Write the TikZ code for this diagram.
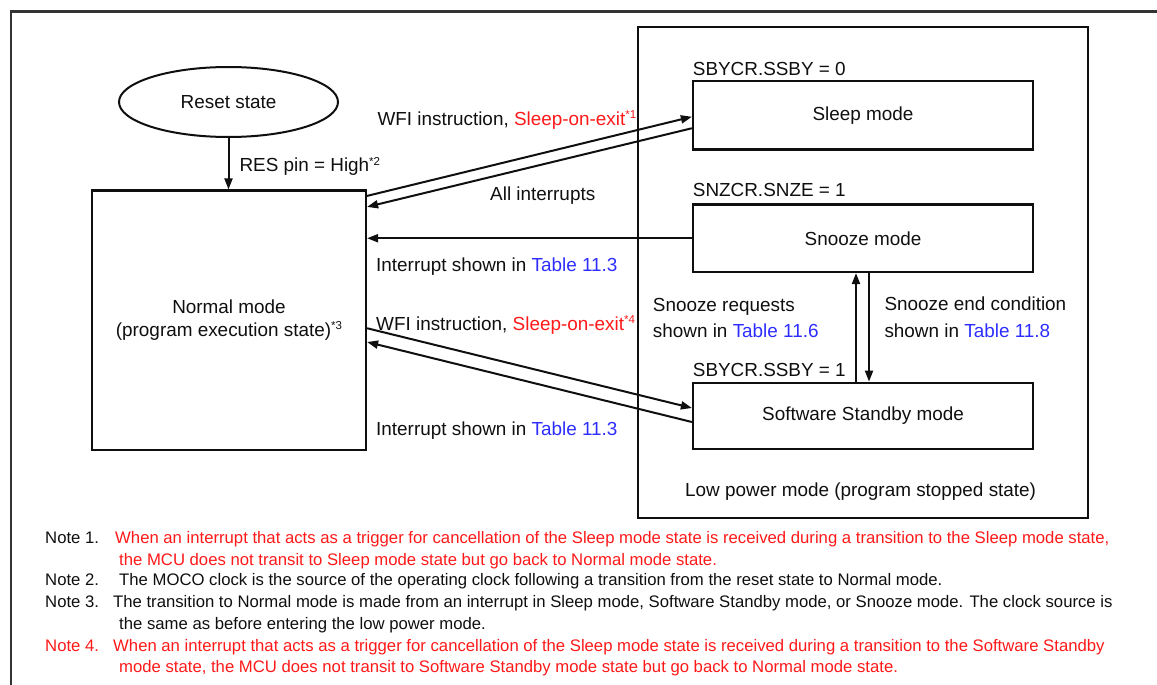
\documentclass[tikz,border=0pt]{standalone}
\usepackage{fontspec}
\setmainfont{Liberation Sans}
\usetikzlibrary{arrows.meta,shapes.geometric}
\definecolor{ired}{RGB}{255,25,25}
\definecolor{iblue}{RGB}{45,45,255}
\definecolor{ink}{RGB}{15,15,15}
% footnote marker on a label
\newcommand{\fmark}[1]{\raisebox{6.5pt}{\fontsize{11.5}{11.5}\selectfont #1}}
\newcommand{\tref}[1]{\textcolor{iblue}{#1}}
\begin{document}
\begin{tikzpicture}[x=1pt,y=-1pt,
  every node/.style={text=ink},
  box/.style={draw=ink, line width=2.2pt, rectangle, inner sep=0pt,
    font=\fontsize{18.9}{22.5}\selectfont, align=center},
  oval/.style={draw=ink, line width=2pt, ellipse, inner sep=0pt,
    font=\fontsize{18.9}{22.5}\selectfont},
  lbl/.style={anchor=base west, inner sep=0pt, font=\fontsize{18.9}{22.5}\selectfont},
  note/.style={anchor=base west, inner sep=0pt, font=\fontsize{16.7}{20}\selectfont},
  arr/.style={draw=ink, line width=2pt, -{Triangle[length=11pt,width=8pt]}}
]
\useasboundingbox (0,0) rectangle (1157,685);

% page frame
\draw[line width=2.4pt, draw=ink!85] (11,686) -- (11,11.5) -- (1158,11.5);

% low power region and its states
\node[box, minimum width=450pt, minimum height=491pt] (low) at (863,272.5) {};
\node[box, minimum width=340pt, minimum height=68.5pt] (sleep) at (863,115.25) {Sleep mode};
\node[box, minimum width=340pt, minimum height=67.5pt] (snooze) at (863,238.25) {Snooze mode};
\node[box, minimum width=340pt, minimum height=66.6pt] (standby) at (863,416) {Software Standby mode};
\node[lbl] (lowtxt) at (685,496) {Low power mode (program stopped state)};

% reset and normal states
\node[oval, minimum width=219pt, minimum height=70pt] (reset) at (228.5,102) {Reset state};
\node[box, minimum width=274pt, minimum height=259.5pt] (normal) at (229,320.25)
  {Normal mode\\(program execution state)\fmark{*3}};

% register conditions
\node[lbl] (ssby0) at (692.7,75) {SBYCR.SSBY = 0};
\node[lbl] (snze1) at (692.7,196.7) {SNZCR.SNZE = 1};
\node[lbl] (ssby1) at (692.7,376.7) {SBYCR.SSBY = 1};

% transitions
\draw[arr] (reset.south) -- (reset.south |- normal.north);
\draw[arr] ([yshift=-6.5pt]normal.north east) -- ([yshift=-1.5pt]sleep.west);
\draw[arr] ([yshift=-13pt]sleep.west) -- ([yshift=-17.5pt]normal.north east);
\draw[arr] (snooze.west) -- (snooze.west -| normal.east);
\draw[arr] ([yshift=-8pt]normal.east) -- ([yshift=8pt]standby.west);
\draw[arr] ([yshift=-6pt]standby.west) -- ([yshift=-21.75pt]normal.east);
\draw[arr] ([xshift=-7pt]standby.north) -- ([xshift=-7pt]snooze.south);
\draw[arr] ([xshift=6pt]snooze.south) -- ([xshift=6pt]standby.north);

% transition labels
\node[lbl] (lres) at (239.3,171.7) {RES pin = High\fmark{*2}};
\node[lbl] (lwfi1) at (377.3,125) {WFI instruction, \textcolor{ired}{Sleep-on-exit\fmark{*1}}};
\node[lbl] (lall) at (490,200) {All interrupts};
\node[lbl] (lint1) at (376,271.5) {Interrupt shown in \tref{Table 11.3}};
\node[lbl] (lwfi4) at (376,330) {WFI instruction, \textcolor{ired}{Sleep-on-exit\fmark{*4}}};
\node[lbl] (lint2) at (376,435) {Interrupt shown in \tref{Table 11.3}};
\node[lbl] (lreq1) at (652.7,311.7) {Snooze requests};
\node[lbl] (lreq2) at (652.7,337.3) {shown in \tref{Table 11.6}};
\node[lbl] (lend1) at (884.3,310) {Snooze end condition};
\node[lbl] (lend2) at (884.3,337) {shown in \tref{Table 11.8}};

% notes
\node[note] (n1) at (45,543.3) {Note 1.};
\node[note, text=ired] (n1a) at (115,543.3) {When an interrupt that acts as a trigger for cancellation of the Sleep mode state is received during a transition to the Sleep mode state,};
\node[note, text=ired] (n1b) at (119,565) {the MCU does not transit to Sleep mode state but go back to Normal mode state.};
\node[note] (n2) at (45,585.7) {Note 2.};
\node[note] (n2a) at (119,585.7) {The MOCO clock is the source of the operating clock following a transition from the reset state to Normal mode.};
\node[note] (n3) at (45,607.3) {Note 3.};
\node[note] (n3a) at (113,607.3) {The transition to Normal mode is made from an interrupt in Sleep mode, Software Standby mode, or Snooze mode. The clock source is};
\node[note] (n3b) at (119,629) {the same as before entering the low power mode.};
\node[note, text=ired] (n4) at (45,651.7) {Note 4.};
\node[note, text=ired] (n4a) at (113,651.7) {When an interrupt that acts as a trigger for cancellation of the Sleep mode state is received during a transition to the Software Standby};
\node[note, text=ired] (n4b) at (119,672.7) {mode state, the MCU does not transit to Software Standby mode state but go back to Normal mode state.};
\end{tikzpicture}
\end{document}
